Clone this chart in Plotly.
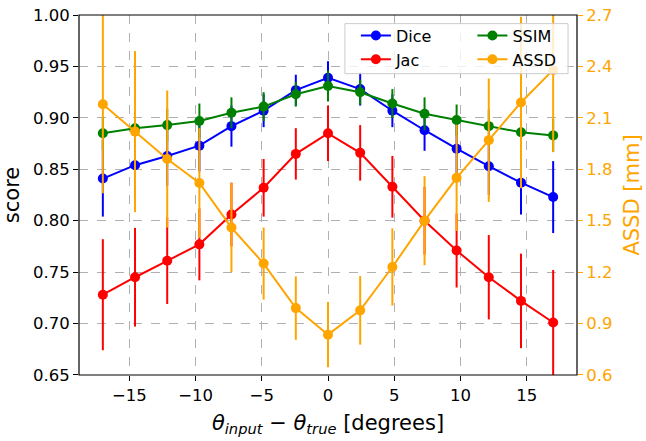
import plotly.graph_objects as go

# ---- data ----
angles = [-17, -14.57, -12.14, -9.71, -7.29, -4.86, -2.43, 0, 2.43, 4.86, 7.29, 9.71, 12.14, 14.57, 17]

dice = [0.841, 0.854, 0.863, 0.873, 0.892, 0.907, 0.927, 0.939, 0.928, 0.907, 0.888, 0.870, 0.853, 0.837, 0.823]
dice_err = [0.037, 0.033, 0.029, 0.025, 0.020, 0.016, 0.015, 0.016, 0.016, 0.016, 0.020, 0.024, 0.028, 0.031, 0.035]

jac = [0.728, 0.745, 0.761, 0.777, 0.806, 0.832, 0.865, 0.885, 0.866, 0.833, 0.800, 0.771, 0.745, 0.722, 0.701]
jac_err = [0.054, 0.048, 0.042, 0.035, 0.031, 0.028, 0.025, 0.027, 0.027, 0.030, 0.033, 0.036, 0.041, 0.046, 0.051]

ssim = [0.885, 0.890, 0.893, 0.897, 0.905, 0.911, 0.923, 0.931, 0.925, 0.914, 0.904, 0.898, 0.892, 0.886, 0.883]
ssim_err = [0.016, 0.016, 0.016, 0.017, 0.015, 0.014, 0.012, 0.015, 0.012, 0.014, 0.016, 0.015, 0.016, 0.016, 0.016]

assd = [2.18, 2.02, 1.86, 1.72, 1.46, 1.25, 0.99, 0.835, 0.977, 1.23, 1.50, 1.75, 1.97, 2.19, 2.38]
assd_err = [0.52, 0.47, 0.40, 0.32, 0.26, 0.21, 0.185, 0.19, 0.20, 0.225, 0.26, 0.31, 0.36, 0.50, 0.48]

x_ticks = [-15, -10, -5, 0, 5, 10, 15]
x_tick_text = ["\u221215", "\u221210", "\u22125", "0", "5", "10", "15"]
left_ticks = [0.65, 0.70, 0.75, 0.80, 0.85, 0.90, 0.95, 1.00]
right_ticks = [0.6, 0.9, 1.2, 1.5, 1.8, 2.1, 2.4, 2.7]

FONT = "DejaVu Sans"
ORANGE = "#ffa500"


def series(name, xs, ys, errs, color, yaxis, legend):
    return go.Scatter(
        x=xs, y=ys, name=name, mode="lines+markers",
        line=dict(color=color, width=2),
        marker=dict(color=color, size=10),
        error_y=dict(type="data", array=errs, visible=True, color=color,
                     thickness=2, width=0),
        yaxis=yaxis, legend=legend,
    )


fig = go.Figure()
fig.add_trace(series("Dice", angles, dice, dice_err, "#0000ff", "y", "legend"))
fig.add_trace(series("Jac", angles, jac, jac_err, "#ff0000", "y", "legend"))
fig.add_trace(series("SSIM", angles, ssim, ssim_err, "#008000", "y", "legend2"))
fig.add_trace(series("ASSD", angles, assd, assd_err, ORANGE, "y2", "legend2"))

grid = dict(showgrid=True, gridcolor="#b0b0b0", gridwidth=1, griddash="dash")

fig.update_layout(
    width=646, height=441,
    margin=dict(l=79, r=69, t=6, b=66),
    paper_bgcolor="white", plot_bgcolor="white",
    font=dict(family=FONT, size=16, color="black"),
    xaxis=dict(
        range=[-18.8, 18.8], tickvals=x_ticks, ticktext=x_tick_text,
        ticks="outside", ticklen=5, tickcolor="black",
        tickfont=dict(size=16.5),
        showline=False, zeroline=False,
        title=dict(text="<i>\u03b8</i><sub><i>input</i></sub> \u2212 <i>\u03b8</i><sub><i>true</i></sub> [degrees]",
                   font=dict(size=21), standoff=11),
        **grid,
    ),
    yaxis=dict(
        range=[0.6499, 1.0001], tickvals=left_ticks, tickformat=".2f",
        ticks="outside", ticklen=5, tickcolor="black",
        tickfont=dict(size=16.5),
        ticklabeloverflow="allow",
        showline=False, zeroline=False,
        title=dict(text="score", font=dict(size=21), standoff=12),
        **grid,
    ),
    yaxis2=dict(
        range=[0.5997, 2.7003], tickvals=right_ticks, tickformat=".1f",
        overlaying="y", side="right", anchor="x",
        ticks="outside", ticklen=5, tickcolor=ORANGE,
        tickfont=dict(color=ORANGE, size=16.5), ticklabeloverflow="allow",
        showline=False, showgrid=False, zeroline=False,
        title=dict(text="ASSD [mm]", font=dict(size=21, color=ORANGE), standoff=12),
    ),
    legend=dict(x=0.556, y=0.99, xanchor="left", yanchor="top",
                bgcolor="rgba(0,0,0,0)", borderwidth=0,
                itemwidth=30, tracegroupgap=0, font=dict(size=16)),
    legend2=dict(x=0.79, y=0.99, xanchor="left", yanchor="top",
                 bgcolor="rgba(0,0,0,0)", borderwidth=0,
                 itemwidth=30, tracegroupgap=0, font=dict(size=16)),
    shapes=[
        dict(type="rect", xref="paper", yref="paper",
             x0=0.534, x1=0.982, y0=0.837, y1=0.976,
             fillcolor="rgba(255,255,255,0.8)",
             line=dict(color="#cccccc", width=1), layer="above"),
        dict(type="rect", xref="paper", yref="paper",
             x0=0, x1=1, y0=0, y1=1, fillcolor="rgba(0,0,0,0)",
             line=dict(color="black", width=1.2), layer="above"),
    ],
)

fig.write_html("out.html", config={"displayModeBar": False},
               post_script="document.body.style.margin='0';")
